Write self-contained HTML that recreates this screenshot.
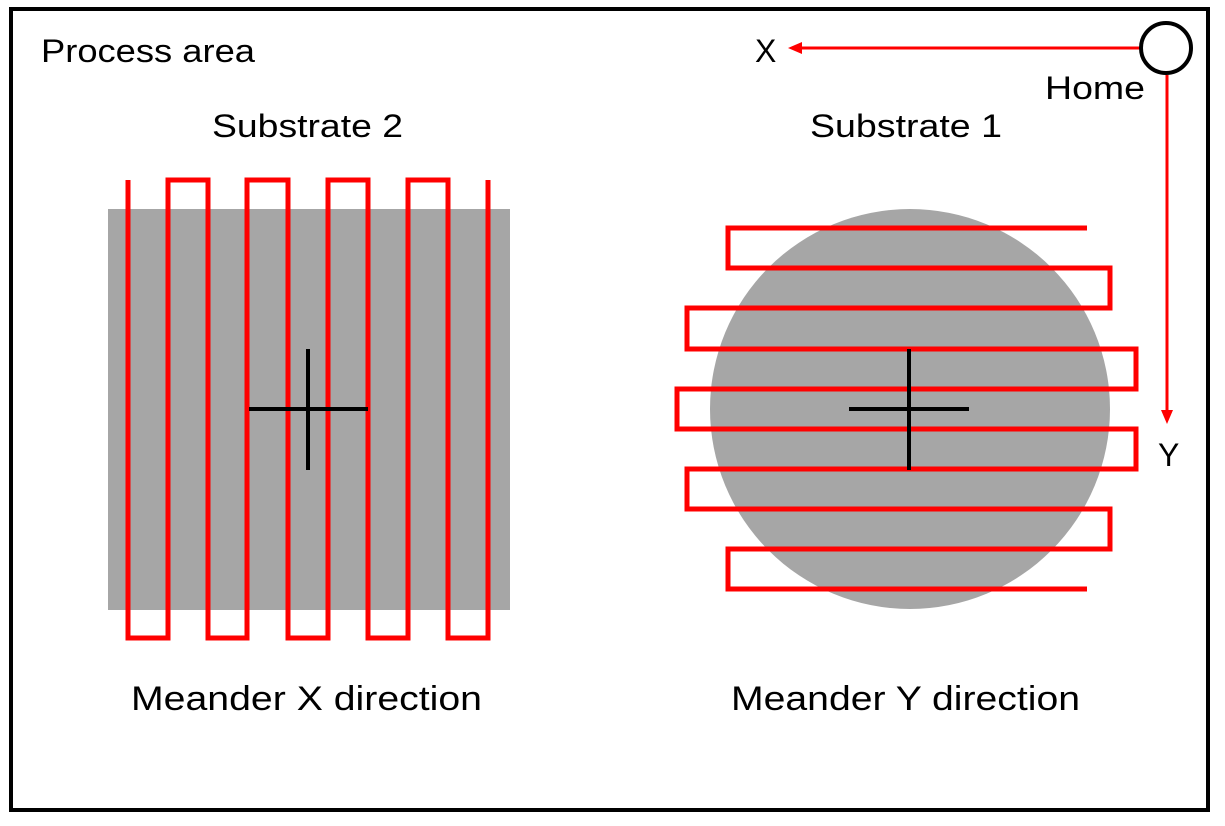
<!DOCTYPE html>
<html><head><meta charset="utf-8"><style>
html,body{margin:0;padding:0;background:#fff;}
svg{display:block;}
text{font-family:"Liberation Sans",sans-serif;fill:#000;}
</style></head><body>
<svg width="1225" height="826" viewBox="0 0 1225 826">
<rect x="11" y="9" width="1197" height="801" fill="#fff" stroke="#000" stroke-width="4"/>
<text x="41" y="62" font-size="32" textLength="214" lengthAdjust="spacingAndGlyphs">Process area</text>
<text x="212" y="137" font-size="32" textLength="191" lengthAdjust="spacingAndGlyphs">Substrate 2</text>
<text x="810" y="137" font-size="32" textLength="192" lengthAdjust="spacingAndGlyphs">Substrate 1</text>
<text x="1045" y="99" font-size="32" textLength="100" lengthAdjust="spacingAndGlyphs">Home</text>
<text x="755" y="62" font-size="32">X</text>
<text x="1158" y="466" font-size="32">Y</text>
<text x="131" y="710" font-size="34" textLength="351" lengthAdjust="spacingAndGlyphs">Meander X direction</text>
<text x="731" y="710" font-size="34" textLength="349" lengthAdjust="spacingAndGlyphs">Meander Y direction</text>

<rect x="108" y="209" width="402" height="401" fill="#a6a6a6"/>
<circle cx="910" cy="409" r="200" fill="#a6a6a6"/>

<polyline fill="none" stroke="#f00" stroke-width="5" points="128,180 128,638 168,638 168,180 208,180 208,638 247,638 247,180 288,180 288,638 328,638 328,180 368,180 368,638 408,638 408,180 448,180 448,638 488,638 488,180"/>
<polyline fill="none" stroke="#f00" stroke-width="5" points="1087,228 728,228 728,268 1110,268 1110,308 687,308 687,349 1136,349 1136,389 677,389 677,429 1136,429 1136,469 687,469 687,509 1110,509 1110,549 728,549 728,589 1087,589"/>

<g stroke="#000" stroke-width="4">
<line x1="249" y1="409" x2="368" y2="409"/><line x1="308" y1="349" x2="308" y2="470"/>
<line x1="849" y1="409" x2="969" y2="409"/><line x1="909" y1="349" x2="909" y2="470"/>
</g>

<line x1="1140" y1="48" x2="800" y2="48" stroke="#f00" stroke-width="3"/>
<polygon points="788,48 802,42 802,54" fill="#f00"/>
<line x1="1167" y1="75" x2="1167" y2="412" stroke="#f00" stroke-width="3"/>
<polygon points="1167,424 1161,410 1173,410" fill="#f00"/>
<circle cx="1166" cy="48" r="25" fill="#fff" stroke="#000" stroke-width="4"/>
</svg>
</body></html>
